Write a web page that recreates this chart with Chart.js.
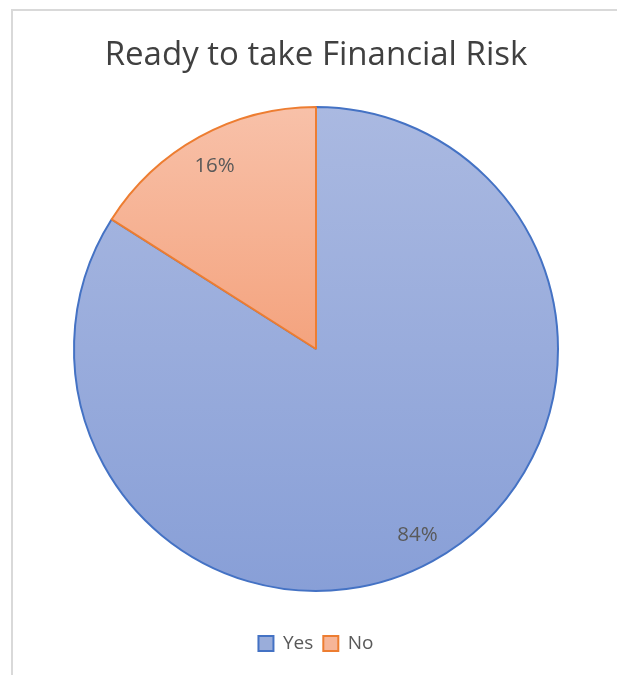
<!DOCTYPE html>
<html>
<head>
<meta charset="utf-8">
<script src="https://cdn.jsdelivr.net/npm/chart.js@4.4.1/dist/chart.umd.min.js"></script>
<style>
  html, body { margin: 0; padding: 0; background: #fff; }
  #frame {
    position: absolute; left: 11px; top: 9px; width: 700px; height: 700px;
    border-left: 2px solid #d9d9d9; border-top: 2px solid #d9d9d9;
    box-sizing: border-box;
  }
  #wrap { position: absolute; left: 0; top: 0; width: 617px; height: 675px; }
</style>
</head>
<body>
<div id="frame"></div>
<div id="wrap"><canvas id="chart" width="617" height="675"></canvas></div>
<script>
// Survey answers, in percent
const categories = ['Yes', 'No'];
const shares = [84, 16];
const valueLabels = ['84%', '16%'];

// Slice fills: light at the top, deeper toward the bottom
const fillTop = ['#aab9e1', '#f8c1a9'];
const fillBottom = ['#889fd7', '#f4a37e'];
const edgeColors = ['#4472c4', '#ed7d31'];
const legendFill = ['#9aadda', '#f6b598'];

const FONT = '"Open Sans", Lato, sans-serif';

function sliceGradient(ctx) {
  const chart = ctx.chart;
  const area = chart.chartArea;
  if (!area) return fillTop[ctx.dataIndex];
  const meta = chart.getDatasetMeta(0);
  const arc = meta.data[ctx.dataIndex];
  const cy = arc && arc.y ? arc.y : (area.top + area.bottom) / 2;
  const r = arc && arc.outerRadius ? arc.outerRadius : Math.min(area.width, area.height) / 2;
  // Yes spans the full disc height; No only reaches down to the centre
  const y0 = cy - r;
  const y1 = ctx.dataIndex === 0 ? cy + r : cy;
  const g = chart.ctx.createLinearGradient(0, y0, 0, y1);
  g.addColorStop(0, fillTop[ctx.dataIndex]);
  g.addColorStop(1, fillBottom[ctx.dataIndex]);
  return g;
}

// Percent labels placed inside each slice, near the rim
const sliceLabels = {
  id: 'sliceLabels',
  afterDatasetsDraw(chart) {
    const ctx = chart.ctx;
    const meta = chart.getDatasetMeta(0);
    ctx.save();
    ctx.font = '20.5px ' + FONT;
    ctx.fillStyle = '#595959';
    ctx.textAlign = 'center';
    ctx.textBaseline = 'middle';
    meta.data.forEach((arc, i) => {
      const mid = (arc.startAngle + arc.endAngle) / 2;
      const rr = arc.outerRadius * 0.87;
      ctx.fillText(valueLabels[i], arc.x + Math.cos(mid) * rr, arc.y + Math.sin(mid) * rr + 2);
    });
    ctx.restore();
  }
};

new Chart(document.getElementById('chart'), {
  type: 'pie',
  data: {
    labels: categories,
    datasets: [{
      data: shares,
      backgroundColor: sliceGradient,
      borderColor: edgeColors,
      borderWidth: 2,
      hoverOffset: 0
    }]
  },
  options: {
    responsive: false,
    animation: false,
    layout: { padding: { left: 73, right: 58, top: 0, bottom: 12 } },
    plugins: {
      tooltip: { enabled: false },
      title: {
        display: true,
        text: 'Ready to take Financial Risk',
        color: '#404040',
        font: { family: FONT, size: 33, weight: 'normal', lineHeight: 1.1 },
        padding: { top: 37, bottom: 0.7 }
      },
      legend: {
        position: 'bottom',
        labels: {
          color: '#595959',
          font: { family: FONT, size: 19 },
          boxWidth: 15,
          boxHeight: 15,
          padding: 10,
          generateLabels() {
            return categories.map((c, i) => ({
              text: c,
              fillStyle: legendFill[i],
              strokeStyle: edgeColors[i],
              lineWidth: 2,
              fontColor: '#595959',
              hidden: false,
              index: i
            }));
          }
        }
      }
    }
  },
  plugins: [sliceLabels]
});
</script>
</body>
</html>
